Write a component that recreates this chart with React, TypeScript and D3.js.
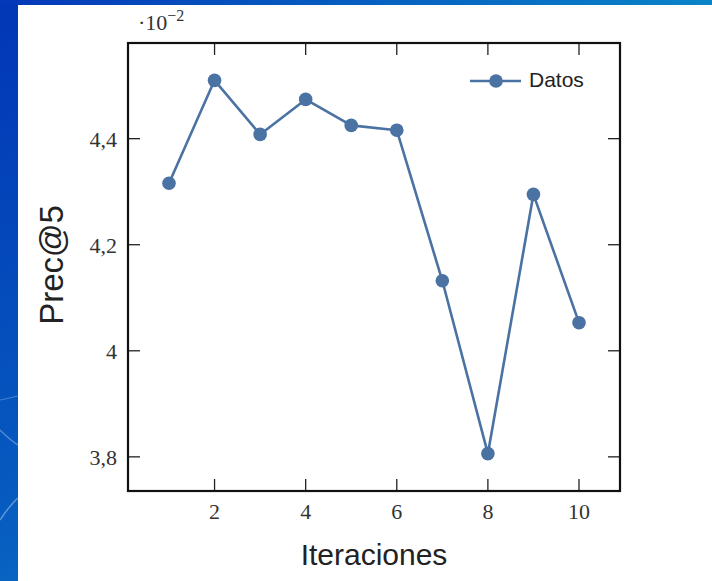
import React from "react";
import * as d3 from "d3";

const iterations = [1, 2, 3, 4, 5, 6, 7, 8, 9, 10];
const prec = [4.316, 4.51, 4.408, 4.474, 4.425, 4.416, 4.132, 3.806, 4.295, 4.053];
const xTicks = [2, 4, 6, 8, 10];
const yTicks = [3.8, 4.0, 4.2, 4.4];
const yTickLabels = ["3,8", "4", "4,2", "4,4"];
const seriesName = "Datos";
const xLabel = "Iteraciones";
const yLabel = "Prec@5";

export default function App() {
  const W = 712, H = 581;
  const L = 128, R = 620, T = 43, B = 491;
  const xExt = d3.extent(iterations) as [number, number];
  const yExt = d3.extent(prec) as [number, number];
  const xPad = (xExt[1] - xExt[0]) * 0.1;
  const yPad = (yExt[1] - yExt[0]) * 0.1;
  const x = d3.scaleLinear().domain([xExt[0] - xPad, xExt[1] + xPad]).range([L, R]);
  const y = d3.scaleLinear().domain([yExt[0] - yPad, yExt[1] + yPad]).range([B, T]);
  const line = d3.line<number>().x((_, i) => x(iterations[i])).y((d) => y(d));
  const col = "#4a72a2";
  const tickLen = 12;
  const serif = "'Liberation Serif', 'DejaVu Serif', serif";
  const sans = "'Liberation Sans', Arial, sans-serif";

  return (
    <svg width={W} height={H} style={{ position: "absolute", left: 0, top: 0 }}>
      <defs>
        <linearGradient id="bg" x1="0" y1="0" x2="0.6" y2="1">
          <stop offset="0" stopColor="#0236b6" />
          <stop offset="0.6" stopColor="#0658bf" />
          <stop offset="1" stopColor="#0c78c6" />
        </linearGradient>
        <linearGradient id="topbg" x1="0" y1="0" x2="1" y2="0">
          <stop offset="0" stopColor="#0338b8" />
          <stop offset="1" stopColor="#0a84c8" />
        </linearGradient>
      </defs>
      <rect x={0} y={0} width={W} height={H} fill="url(#bg)" />
      <rect x={0} y={0} width={W} height={5} fill="url(#topbg)" />
      <path d="M0,520 Q10,505 18,498" stroke="#ffffff" strokeOpacity={0.35} fill="none" strokeWidth={1.5} />
      <path d="M0,430 Q10,440 18,445" stroke="#ffffff" strokeOpacity={0.3} fill="none" strokeWidth={1.5} />
      <path d="M0,400 Q10,398 18,396" stroke="#ffffff" strokeOpacity={0.25} fill="none" strokeWidth={1.2} />
      <rect x={18} y={5} width={W - 18} height={H - 5} fill="#ffffff" />

      {/* ticks */}
      {xTicks.map((t) => (
        <g key={"xt" + t} stroke="#222" strokeWidth={1.3}>
          <line x1={x(t)} x2={x(t)} y1={B} y2={B - tickLen} />
          <line x1={x(t)} x2={x(t)} y1={T} y2={T + tickLen} />
        </g>
      ))}
      {yTicks.map((t) => (
        <g key={"yt" + t} stroke="#222" strokeWidth={1.3}>
          <line x1={L} x2={L + tickLen} y1={y(t)} y2={y(t)} />
          <line x1={R} x2={R - tickLen} y1={y(t)} y2={y(t)} />
        </g>
      ))}
      <rect x={L} y={T} width={R - L} height={B - T} fill="none" stroke="#111" strokeWidth={2.2} />

      {/* tick labels */}
      {xTicks.map((t) => (
        <text key={"xl" + t} x={x(t)} y={B + 28} textAnchor="middle" fontFamily={serif} fontSize={22} fill="#333">
          {t}
        </text>
      ))}
      {yTicks.map((t, i) => (
        <text key={"yl" + t} x={L - 11} y={y(t) + 8} textAnchor="end" fontFamily={serif} fontSize={22} fill="#333">
          {yTickLabels[i]}
        </text>
      ))}
      <text x={138} y={30} fontFamily={serif} fontSize={22} fill="#333">
        ·10
        <tspan dy={-9} fontSize={16}>−2</tspan>
      </text>

      {/* series */}
      <path d={line(prec) || ""} fill="none" stroke={col} strokeWidth={2.6} strokeLinejoin="round" />
      {prec.map((v, i) => (
        <circle key={i} cx={x(iterations[i])} cy={y(v)} r={6.8} fill={col} />
      ))}

      {/* legend */}
      <line x1={470} x2={521} y1={81} y2={81} stroke={col} strokeWidth={2.6} />
      <circle cx={496} cy={81} r={6.8} fill={col} />
      <text x={529} y={87} fontFamily={sans} fontSize={21} fill="#222">{seriesName}</text>

      {/* axis labels */}
      <text x={374} y={565} textAnchor="middle" fontFamily={sans} fontSize={30} fill="#222">{xLabel}</text>
      <text transform="translate(63,265) rotate(-90)" textAnchor="middle" fontFamily={sans} fontSize={33} fill="#222">
        {yLabel}
      </text>
    </svg>
  );
}
